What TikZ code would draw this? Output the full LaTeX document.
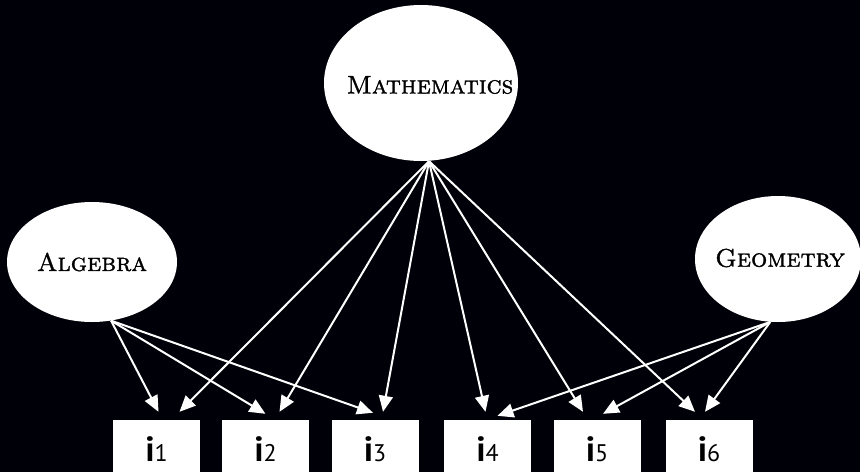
\documentclass[tikz,border=0pt]{standalone}
\usepackage{fontspec}
\newfontfamily\boxfont{PT Sans}
\font\heavysc="[lmromancaps10-regular.otf]:embolden=1.2" at 25.5pt
\usetikzlibrary{shapes.geometric,arrows.meta}
\begin{document}
\begin{tikzpicture}[x=1pt,y=-1pt,
  latent/.style={ellipse,fill=white,draw=none,inner sep=0pt},
  latenttext/.style={inner sep=0pt,font=\heavysc},
  item/.style={rectangle,fill=white,draw=none,minimum width=87pt,minimum height=60pt,inner sep=0pt},
  link/.style={draw=white,line width=2pt,-{Triangle[length=16pt,width=14pt]}}]
\useasboundingbox (0,0) rectangle (860,472);
\fill[black!97!blue] (0,0) rectangle (860,472);
\clip (0,0) rectangle (860,472);
\node[latent,minimum width=194pt,minimum height=156pt] (M) at (421,83) {};
\node[latent,minimum width=170pt,minimum height=120pt] (A) at (92,262) {};
\node[latent,minimum width=166pt,minimum height=126pt] (G) at (778,259) {};
\node[latenttext] (Mt) at (430,85) {Mathematics};
\node[latenttext] (At) at (92,262) {Algebra};
\node[latenttext] (Gt) at (780,258) {Geometry};
\newcommand{\itemlabel}[1]{{\boxfont\bfseries\fontsize{35}{35}\selectfont i}{\boxfont\fontsize{24}{24}\selectfont #1}}
\node[item] (i1) at (156.5,450) {\raisebox{2pt}{\itemlabel{1}}};
\node[item] (i2) at (265.5,450) {\raisebox{2pt}{\itemlabel{2}}};
\node[item] (i3) at (375,450) {\raisebox{2pt}{\itemlabel{3}}};
\node[item] (i4) at (487.5,450) {\raisebox{2pt}{\itemlabel{4}}};
\node[item] (i5) at (597,450) {\raisebox{2pt}{\itemlabel{5}}};
\node[item] (i6) at (709,450) {\raisebox{2pt}{\itemlabel{6}}};
\coordinate (ms) at ([xshift=8pt]M.south);
% Algebra
\draw[link] (A.-72) -- ([xshift=2pt,yshift=8pt]i1.north);
\draw[link] (A.-72) -- ([xshift=0pt,yshift=6pt]i2.north);
\draw[link] (A.-72) -- ([xshift=-2pt,yshift=7pt]i3.north);
% Mathematics
\draw[link] (ms) -- ([xshift=23pt,yshift=8pt]i1.north);
\draw[link] (ms) -- ([xshift=14pt,yshift=8pt]i2.north);
\draw[link] (ms) -- ([xshift=8pt,yshift=8pt]i3.north);
\draw[link] (ms) -- ([xshift=-2pt,yshift=8pt]i4.north);
\draw[link] (ms) -- ([xshift=-14pt,yshift=8pt]i5.north);
\draw[link] (ms) -- ([xshift=-14pt,yshift=8pt]i6.north);
% Geometry
\draw[link] (G.-97) -- ([xshift=10pt,yshift=4pt]i4.north);
\draw[link] (G.-97) -- ([xshift=6pt,yshift=6pt]i5.north);
\draw[link] (G.-97) -- ([xshift=-4pt,yshift=8pt]i6.north);
\end{tikzpicture}
\end{document}
